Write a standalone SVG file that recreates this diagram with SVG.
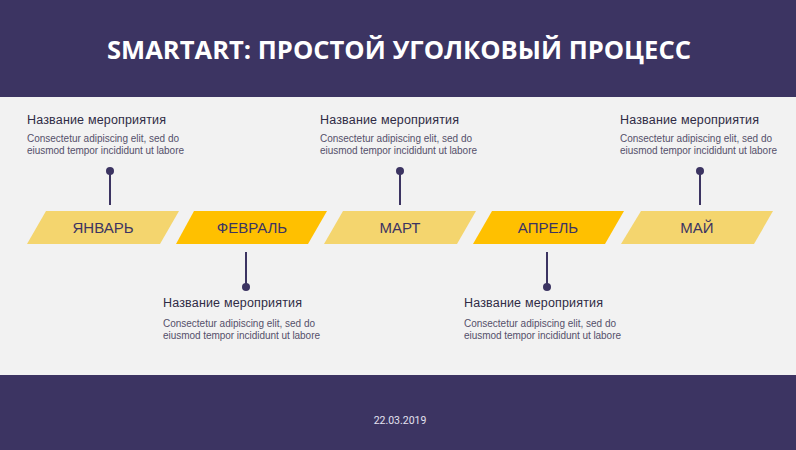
<svg xmlns="http://www.w3.org/2000/svg" width="796" height="450" viewBox="0 0 796 450">
<style>
.band{fill:#3C3462}
.lt{fill:#F4D56E}
.dk{fill:#FFC000}
.lbl{font-family:"Liberation Sans",Arial,sans-serif;font-size:15px;fill:#3C3462;text-anchor:middle}
.ttl{font-family:"Liberation Sans",Arial,sans-serif;font-size:12.5px;fill:#2F2B45}
.dsc{font-family:"Liberation Sans",Arial,sans-serif;font-size:10px;fill:#55506A}
.ln{stroke:#3C3462;stroke-width:2;fill:none}
.dot{fill:#3C3462}
</style>
<rect x="0" y="0" width="796" height="450" fill="#F2F2F2"/>
<rect class="band" x="0" y="0" width="796" height="97"/>
<rect class="band" x="0" y="375" width="796" height="75"/>
<text x="399" y="59" text-anchor="middle" font-family="'Open Sans','DejaVu Sans',sans-serif" font-weight="bold" font-size="25.5" fill="#FFFFFF" textLength="584" lengthAdjust="spacingAndGlyphs">SMARTART: ПРОСТОЙ УГОЛКОВЫЙ ПРОЦЕСС</text>
<text x="400" y="424" text-anchor="middle" font-family="Roboto,'Liberation Sans',sans-serif" font-size="10.5" fill="#E4E2F0">22.03.2019</text>
<g id="connectors">
<line class="ln" x1="110" y1="171" x2="110" y2="205"/><circle class="dot" cx="110" cy="171" r="4"/>
<line class="ln" x1="246" y1="252" x2="246" y2="287"/><circle class="dot" cx="246" cy="287" r="4"/>
<line class="ln" x1="400" y1="171" x2="400" y2="205"/><circle class="dot" cx="400" cy="171" r="4"/>
<line class="ln" x1="547" y1="252" x2="547" y2="287"/><circle class="dot" cx="547" cy="287" r="4"/>
<line class="ln" x1="700" y1="171" x2="700" y2="205"/><circle class="dot" cx="700" cy="171" r="4"/>
</g>
<g id="jan">
<polygon class="lt" points="46,211 179,211 160,244 27,244"/>
<text class="lbl" x="103" y="233">ЯНВАРЬ</text>
<text class="ttl" x="27" y="124" textLength="139">Название  мероприятия</text>
<text class="dsc" x="27" y="142" textLength="152">Consectetur adipiscing elit, sed do</text>
<text class="dsc" x="27" y="154" textLength="157">eiusmod tempor incididunt ut labore</text>
</g>
<g id="feb">
<polygon class="dk" points="194,211 327,211 308,244 176,244"/>
<text class="lbl" x="252" y="233">ФЕВРАЛЬ</text>
<text class="ttl" x="163" y="307" textLength="139">Название  мероприятия</text>
<text class="dsc" x="163" y="327" textLength="152">Consectetur adipiscing elit, sed do</text>
<text class="dsc" x="163" y="339" textLength="157">eiusmod tempor incididunt ut labore</text>
</g>
<g id="mar">
<polygon class="lt" points="343,211 476,211 457,244 324,244"/>
<text class="lbl" x="400" y="233">МАРТ</text>
<text class="ttl" x="320" y="124" textLength="139">Название  мероприятия</text>
<text class="dsc" x="320" y="142" textLength="152">Consectetur adipiscing elit, sed do</text>
<text class="dsc" x="320" y="154" textLength="157">eiusmod tempor incididunt ut labore</text>
</g>
<g id="apr">
<polygon class="dk" points="492,211 624,211 605,244 473,244"/>
<text class="lbl" x="548" y="233">АПРЕЛЬ</text>
<text class="ttl" x="464" y="307" textLength="139">Название  мероприятия</text>
<text class="dsc" x="464" y="327" textLength="152">Consectetur adipiscing elit, sed do</text>
<text class="dsc" x="464" y="339" textLength="157">eiusmod tempor incididunt ut labore</text>
</g>
<g id="may">
<polygon class="lt" points="641,211 773,211 754,244 621,244"/>
<text class="lbl" x="697" y="233">МАЙ</text>
<text class="ttl" x="620" y="124" textLength="139">Название  мероприятия</text>
<text class="dsc" x="620" y="142" textLength="152">Consectetur adipiscing elit, sed do</text>
<text class="dsc" x="620" y="154" textLength="157">eiusmod tempor incididunt ut labore</text>
</g>
</svg>
